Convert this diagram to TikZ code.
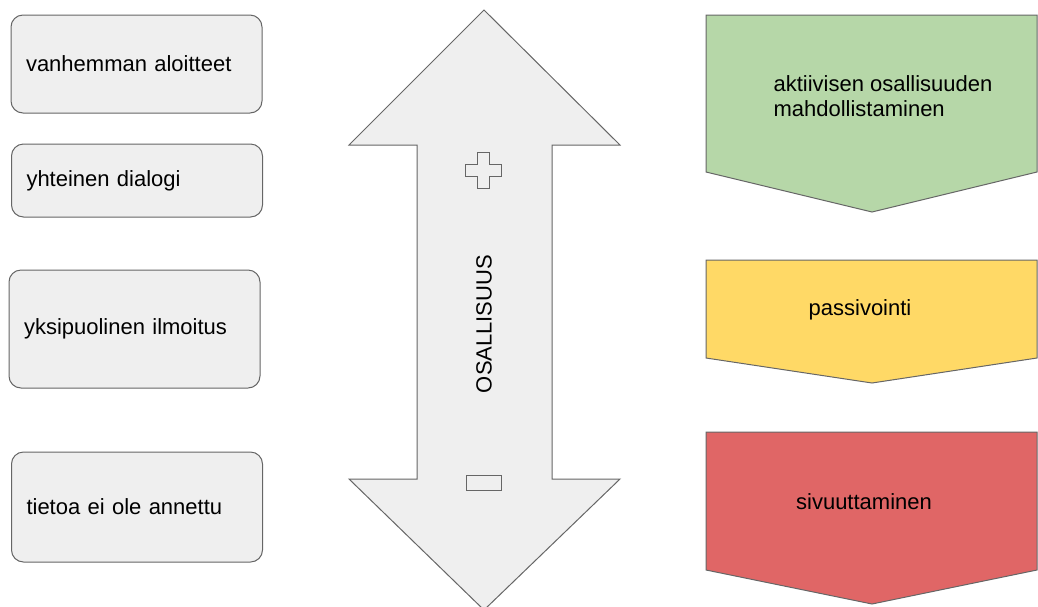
\documentclass[tikz,border=0pt]{standalone}
\usepackage{fontspec}
\setmainfont{Liberation Sans}
\usepackage{tikz}
\definecolor{boxgray}{HTML}{EFEFEF}
\definecolor{linegray}{HTML}{666666}
\definecolor{greenfill}{HTML}{B6D7A8}
\definecolor{yellowfill}{HTML}{FFD966}
\definecolor{redfill}{HTML}{E06666}

\begin{document}
\begin{tikzpicture}[x=1pt,y=-1pt,
  every node/.style={font=\fontsize{22}{25}\selectfont},
  tapa/.style={draw=linegray, fill=boxgray, line width=1pt, rounded corners=12pt, minimum width=251pt, text width=221pt, inner xsep=15pt, align=left},
  merkki/.style={draw=linegray, fill=boxgray, line width=1pt},
  nuoli/.style={draw=linegray, line width=1pt}]
\useasboundingbox (0,0) rectangle (1038,606);
% vasen sarake
\node[tapa, minimum height=98pt] (aloitteet) at (136.5,64) {vanhemman aloitteet};
\node[tapa, minimum height=73pt] (dialogi) at (137,180.5) {yhteinen dialogi};
\node[tapa, minimum height=118pt] (ilmoitus) at (134.5,329) {yksipuolinen ilmoitus};
\node[tapa, minimum height=110pt] (annettu) at (137,507) {tietoa ei ole annettu};
% keskinuoli
\draw[merkki] (484,10) -- (620,145) -- (552,145) -- (552,479) -- (620,479) -- (484,610) -- (349,479) -- (417,479) -- (417,145) -- (349,145) -- cycle;
\draw[merkki, shift={(483.5,170)}] (-6,-18) -- (6,-18) -- (6,-6) -- (18,-6) -- (18,6) -- (6,6) -- (6,18) -- (-6,18) -- (-6,6) -- (-18,6) -- (-18,-6) -- (-6,-6) -- cycle;
\draw[merkki] (466,475) rectangle (501,490);
\node[rotate=90] (osallisuus) at (484,324) {OSALLISUUS};
% oikea sarake
\draw[nuoli, fill=greenfill] (706,15) -- (1037,15) -- (1037,172) -- (872,212) -- (706,172) -- cycle;
\node[align=left] (aktiivinen) at (883,96) {aktiivisen osallisuuden\\mahdollistaminen};
\draw[nuoli, fill=yellowfill] (706,260) -- (1037,260) -- (1037,358) -- (872,383) -- (706,358) -- cycle;
\node (passivointi) at (860,310) {passivointi};
\draw[nuoli, fill=redfill] (706,432) -- (1037,432) -- (1037,570) -- (872,604) -- (706,570) -- cycle;
\node (sivuuttaminen) at (864,502) {sivuuttaminen};
\end{tikzpicture}
\end{document}
